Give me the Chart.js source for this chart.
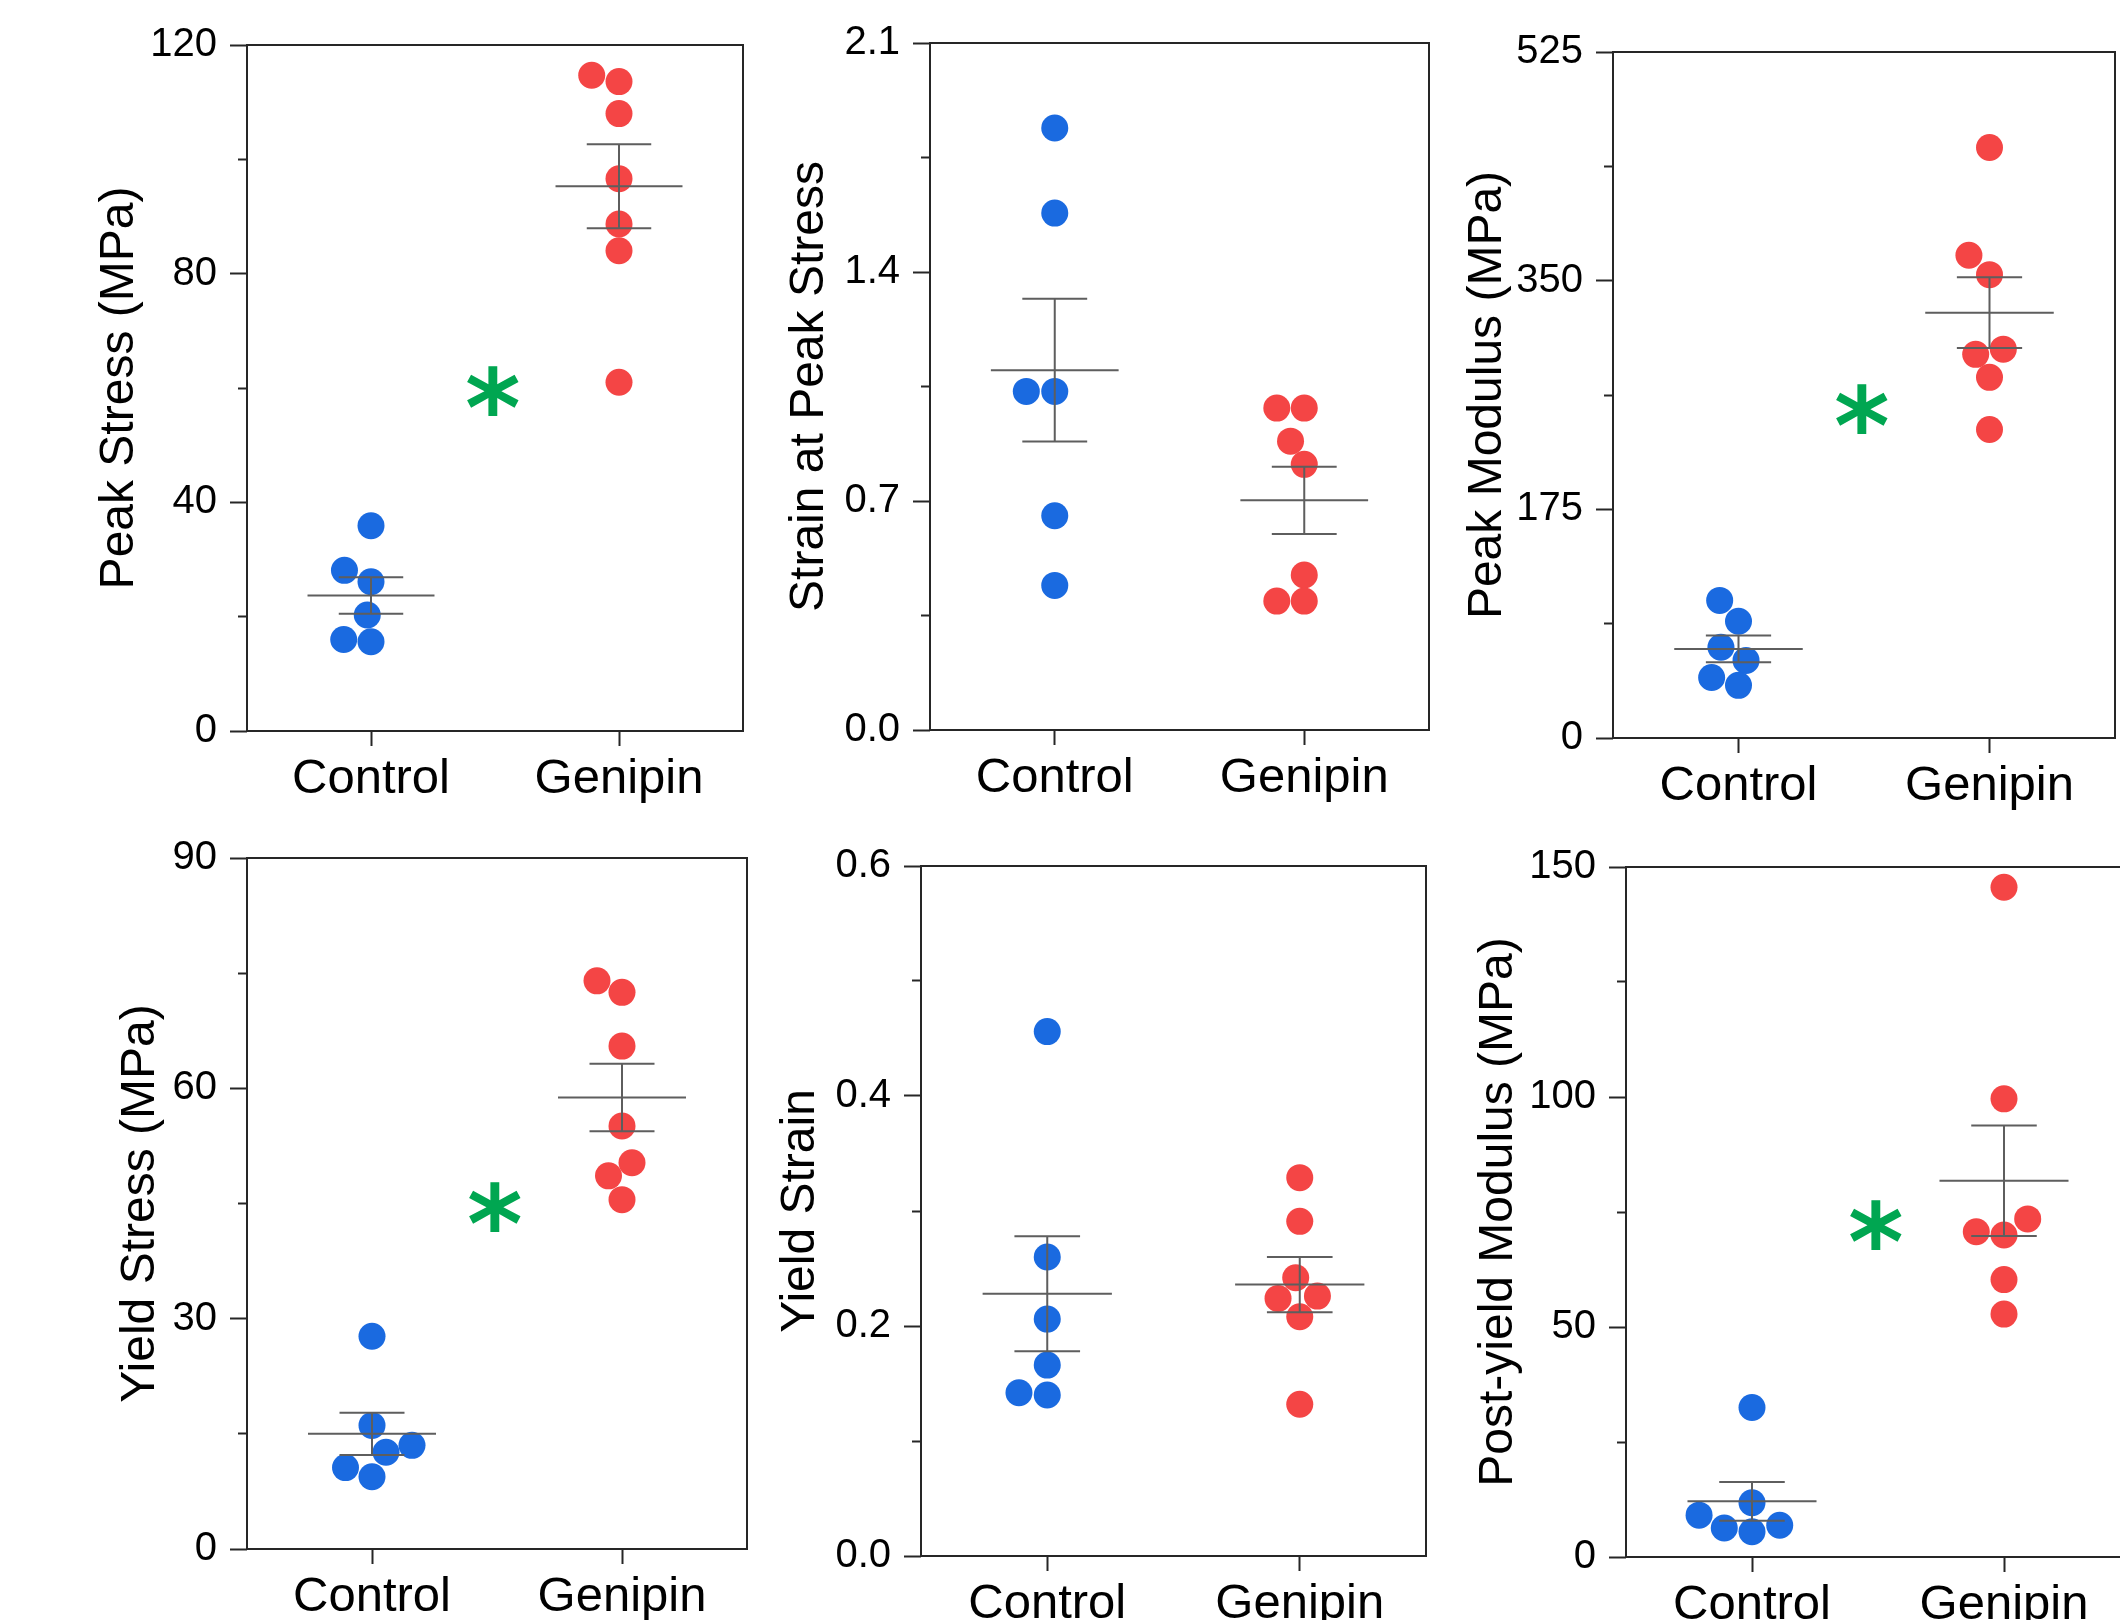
<!DOCTYPE html>
<html>
<head>
<meta charset="utf-8">
<script src="https://cdn.jsdelivr.net/npm/chart.js@4.4.1/dist/chart.umd.min.js"></script>
<style>
  html, body { margin: 0; padding: 0; background: #fff; width: 2120px; height: 1620px; overflow: hidden; }
  canvas { position: absolute; }
</style>
</head>
<body>
<canvas id="peakStress"></canvas>
<canvas id="strainPeak"></canvas>
<canvas id="peakModulus"></canvas>
<canvas id="yieldStress"></canvas>
<canvas id="yieldStrain"></canvas>
<canvas id="postYield"></canvas>
<script>
// ================== DATA ==================
const groups = ['Control', 'Genipin'];

// Peak Stress (MPa)
const peakStressControl = [35.9, 28.1, 26.1, 20.3, 16.0, 15.6];
const peakStressGenipin = [114.7, 113.6, 108.0, 96.6, 88.7, 84.0, 61.0];
const peakStressMean    = [23.7, 95.3];
const peakStressSE      = [3.2, 7.35];
const peakStressTicks   = [0, 40, 80, 120];
const peakStressLabels  = ['0', '40', '80', '120'];
const peakStressMinor   = [20, 60, 100];
const peakStressStar    = 59.5;

// Strain at Peak Stress
const strainPeakControl = [1.840, 1.580, 1.035, 1.035, 0.655, 0.442];
const strainPeakGenipin = [0.984, 0.984, 0.883, 0.812, 0.474, 0.394, 0.394];
const strainPeakMean    = [1.100, 0.702];
const strainPeakSE      = [0.218, 0.103];
const strainPeakTicks   = [0, 0.7, 1.4, 2.1];
const strainPeakLabels  = ['0.0', '0.7', '1.4', '2.1'];
const strainPeakMinor   = [0.35, 1.05, 1.75];

// Peak Modulus (MPa)
const peakModulusControl = [105.3, 89.4, 69.4, 59.4, 46.3, 40.3];
const peakModulusGenipin = [451.9, 369.4, 354.6, 297.6, 293.6, 276.0, 236.1];
const peakModulusMean    = [68.2, 325.5];
const peakModulusSE      = [10.2, 27.1];
const peakModulusTicks   = [0, 175, 350, 525];
const peakModulusLabels  = ['0', '175', '350', '525'];
const peakModulusMinor   = [87.5, 262.5, 437.5];
const peakModulusStar    = 252;

// Yield Stress (MPa)
const yieldStressControl = [27.7, 16.1, 13.5, 12.6, 10.6, 9.4];
const yieldStressGenipin = [74.0, 72.5, 65.5, 55.1, 50.3, 48.6, 45.5];
const yieldStressMean    = [15.0, 58.8];
const yieldStressSE      = [2.75, 4.4];
const yieldStressTicks   = [0, 30, 60, 90];
const yieldStressLabels  = ['0', '30', '60', '90'];
const yieldStressMinor   = [15, 45, 75];
const yieldStressStar    = 44.5;

// Yield Strain
const yieldStrainControl = [0.456, 0.260, 0.206, 0.166, 0.142, 0.140];
const yieldStrainGenipin = [0.329, 0.291, 0.242, 0.226, 0.224, 0.208, 0.132];
const yieldStrainMean    = [0.228, 0.236];
const yieldStrainSE      = [0.050, 0.024];
const yieldStrainTicks   = [0, 0.2, 0.4, 0.6];
const yieldStrainLabels  = ['0.0', '0.2', '0.4', '0.6'];
const yieldStrainMinor   = [0.1, 0.3, 0.5];

// Post-yield Modulus (MPa)
const postYieldControl = [32.5, 11.8, 9.1, 6.9, 6.3, 5.5];
const postYieldGenipin = [145.6, 99.6, 73.5, 70.7, 70.0, 60.3, 52.8];
const postYieldMean    = [12.1, 81.8];
const postYieldSE      = [4.2, 12.0];
const postYieldTicks   = [0, 50, 100, 150];
const postYieldLabels  = ['0', '50', '100', '150'];
const postYieldMinor   = [25, 75, 125];
const postYieldStar    = 72.2;

// beeswarm offsets of the dots (in category units)
const peakStressCtrlDx  = [0, -0.107, 0, -0.015, -0.11, 0];
const peakStressGenDx   = [-0.11, 0, 0, 0, 0, 0, 0];
const strainPeakCtrlDx  = [0, 0, -0.114, 0, 0, 0];
const strainPeakGenDx   = [-0.11, 0, -0.055, 0, 0, -0.11, 0];
const peakModCtrlDx     = [-0.075, 0, -0.07, 0.03, -0.107, 0];
const peakModGenDx      = [0, -0.082, 0, 0.055, -0.055, 0, 0];
const yieldStressCtrlDx = [0, 0, 0.16, 0.056, -0.106, 0];
const yieldStressGenDx  = [-0.10, 0, 0, 0, 0.04, -0.054, 0];
const yieldStrainCtrlDx = [0, 0, 0, 0, -0.112, 0];
const yieldStrainGenDx  = [0, 0, -0.016, 0.07, -0.086, 0, 0];
const postYieldCtrlDx   = [0, 0, -0.21, 0.11, -0.11, 0];
const postYieldGenDx    = [0, 0, 0.094, -0.11, 0, 0, 0];


// ================== STYLE ==================
const FONT = "'Liberation Sans', Arial, sans-serif";
const STAR_FONT = "'DejaVu Sans'";
const AXIS_W = 230;     // room for y labels + title
const XAXIS_H = 120;    // room for x labels
const PAD_T = 40;
const PAD_R = 20;
const BLUE = '#1a6ae0';
const RED = '#f44545';
const MEAN_HALF = 0.256;
const CAP_HALF = 0.13;


// ================== PLUGINS ==================
const frame = {
    id: 'frame',
    beforeDatasetsDraw(chart) {
        const { ctx, chartArea: a } = chart;
        ctx.save();
        ctx.strokeStyle = '#262626';
        ctx.lineWidth = 2;
        ctx.strokeRect(a.left, a.top, a.right - a.left, a.bottom - a.top);
        ctx.restore();
    }
};

const meanSE = {
    id: 'meanSE',
    afterDatasetsDraw(chart, args, o) {
        const { ctx, scales: { x, y } } = chart;
        ctx.save();
        ctx.strokeStyle = '#5e5e5e';
        ctx.lineWidth = 2;
        o.means.forEach((m, i) => {
            const cx = x.getPixelForValue(i);
            const hw = x.getPixelForValue(i + MEAN_HALF) - cx;
            const cw = x.getPixelForValue(i + CAP_HALF) - cx;
            const ym = y.getPixelForValue(m);
            const yt = y.getPixelForValue(m + o.se[i]);
            const yb = y.getPixelForValue(m - o.se[i]);
            ctx.beginPath();
            ctx.moveTo(cx - hw, ym); ctx.lineTo(cx + hw, ym);
            ctx.moveTo(cx - cw, yt); ctx.lineTo(cx + cw, yt);
            ctx.moveTo(cx - cw, yb); ctx.lineTo(cx + cw, yb);
            ctx.moveTo(cx, yt);      ctx.lineTo(cx, yb);
            ctx.stroke();
        });
        ctx.restore();
    }
};

// green significance asterisk between the two groups
const star = {
    id: 'star',
    afterDatasetsDraw(chart, args, o) {
        if (o.value == null) return;
        const { ctx, scales: { x, y } } = chart;
        const px = x.getPixelForValue(0.5);
        const py = y.getPixelForValue(o.value);
        ctx.save();
        ctx.font = `bold 100px ${STAR_FONT}`;
        let m = ctx.measureText('*');
        const size = 100 * o.height / (m.actualBoundingBoxAscent + m.actualBoundingBoxDescent);
        ctx.font = `bold ${size}px ${STAR_FONT}`;
        m = ctx.measureText('*');
        ctx.fillStyle = '#00a651';
        ctx.textAlign = 'left';
        ctx.textBaseline = 'alphabetic';
        const gx = px - (m.actualBoundingBoxRight - m.actualBoundingBoxLeft) / 2 + m.actualBoundingBoxLeft;
        const gy = py + (m.actualBoundingBoxAscent - m.actualBoundingBoxDescent) / 2;
        ctx.fillText('*', gx, gy);
        ctx.restore();
    }
};


// ================== PANELS ==================
function pts(values, dx, cat) {
    return values.map((v, i) => ({ x: cat + dx[i], y: v }));
}

function makePanel(id, p) {
    const canvas = document.getElementById(id);
    const [L, T, W, H] = p.box;
    const cw = AXIS_W + W + PAD_R;
    const ch = PAD_T + H + XAXIS_H;
    canvas.width = cw;
    canvas.height = ch;
    canvas.style.width = cw + 'px';
    canvas.style.height = ch + 'px';
    canvas.style.left = (L - AXIS_W) + 'px';
    canvas.style.top = (T - PAD_T) + 'px';

    const max = p.ticks[p.ticks.length - 1];
    const tickGrid = { drawOnChartArea: false, drawTicks: true, tickWidth: 2, tickColor: '#262626' };

    new Chart(canvas, {
        type: 'scatter',
        data: {
            datasets: [
                { data: pts(p.control, p.ctrlDx, 0), backgroundColor: BLUE, clip: false },
                { data: pts(p.genipin, p.genDx, 1), backgroundColor: RED, clip: false }
            ]
        },
        options: {
            responsive: false,
            animation: false,
            devicePixelRatio: 1,
            layout: { padding: { left: 0, top: PAD_T, right: PAD_R, bottom: 0 } },
            elements: { point: { radius: 13.5, borderWidth: 0, hoverRadius: 13.5 } },
            scales: {
                x: {
                    type: 'linear', min: -0.5, max: 1.5,
                    afterBuildTicks: s => { s.ticks = groups.map((g, i) => ({ value: i })); },
                    afterFit: s => { s.height = XAXIS_H; },
                    ticks: {
                        callback: v => groups[v], autoSkip: false, maxRotation: 0,
                        font: { family: FONT, size: 49 }, color: '#000', padding: 4
                    },
                    grid: { ...tickGrid, tickLength: 15 },
                    border: { display: false }
                },
                y: {
                    type: 'linear', position: 'left', weight: 1, min: 0, max: max,
                    afterBuildTicks: s => { s.ticks = p.ticks.map(v => ({ value: v })); },
                    afterFit: s => { s.width = AXIS_W; },
                    ticks: {
                        callback: (v, i) => p.labels[i],
                        font: { family: FONT, size: 40 }, color: '#000', padding: 13
                    },
                    grid: { ...tickGrid, tickLength: 17 },
                    border: { display: false },
                    title: {
                        display: true, text: p.title, color: '#000',
                        font: { family: FONT, size: 48 },
                        padding: { top: p.titlePad, bottom: 0 }
                    }
                },
                yMinor: {
                    type: 'linear', position: 'left', weight: 0, min: 0, max: max,
                    afterBuildTicks: s => { s.ticks = p.minor.map(v => ({ value: v })); },
                    afterFit: s => { s.width = 0; },
                    ticks: { display: false },
                    grid: { ...tickGrid, tickLength: 9 },
                    border: { display: false }
                }
            },
            plugins: {
                legend: { display: false },
                tooltip: { enabled: false },
                meanSE: { means: p.mean, se: p.se },
                star: { value: p.star, height: 50 }
            }
        },
        plugins: [frame, meanSE, star]
    });
}

makePanel('peakStress', {
    box: [247, 45, 496, 686], title: 'Peak Stress (MPa)', titlePad: 74,
    control: peakStressControl, genipin: peakStressGenipin,
    ctrlDx: peakStressCtrlDx, genDx: peakStressGenDx,
    mean: peakStressMean, se: peakStressSE,
    ticks: peakStressTicks, labels: peakStressLabels, minor: peakStressMinor,
    star: peakStressStar
});

makePanel('strainPeak', {
    box: [930, 43, 499, 687], title: 'Strain at Peak Stress', titlePad: 81,
    control: strainPeakControl, genipin: strainPeakGenipin,
    ctrlDx: strainPeakCtrlDx, genDx: strainPeakGenDx,
    mean: strainPeakMean, se: strainPeakSE,
    ticks: strainPeakTicks, labels: strainPeakLabels, minor: strainPeakMinor,
    star: null
});

makePanel('peakModulus', {
    box: [1613, 52, 502, 686], title: 'Peak Modulus (MPa)', titlePad: 76,
    control: peakModulusControl, genipin: peakModulusGenipin,
    ctrlDx: peakModCtrlDx, genDx: peakModGenDx,
    mean: peakModulusMean, se: peakModulusSE,
    ticks: peakModulusTicks, labels: peakModulusLabels, minor: peakModulusMinor,
    star: peakModulusStar
});

makePanel('yieldStress', {
    box: [247, 858, 500, 691], title: 'Yield Stress (MPa)', titlePad: 95,
    control: yieldStressControl, genipin: yieldStressGenipin,
    ctrlDx: yieldStressCtrlDx, genDx: yieldStressGenDx,
    mean: yieldStressMean, se: yieldStressSE,
    ticks: yieldStressTicks, labels: yieldStressLabels, minor: yieldStressMinor,
    star: yieldStressStar
});

makePanel('yieldStrain', {
    box: [921, 866, 505, 690], title: 'Yield Strain', titlePad: 81,
    control: yieldStrainControl, genipin: yieldStrainGenipin,
    ctrlDx: yieldStrainCtrlDx, genDx: yieldStrainGenDx,
    mean: yieldStrainMean, se: yieldStrainSE,
    ticks: yieldStrainTicks, labels: yieldStrainLabels, minor: yieldStrainMinor,
    star: null
});

makePanel('postYield', {
    box: [1626, 867, 504, 690], title: 'Post-yield Modulus (MPa)', titlePad: 74,
    control: postYieldControl, genipin: postYieldGenipin,
    ctrlDx: postYieldCtrlDx, genDx: postYieldGenDx,
    mean: postYieldMean, se: postYieldSE,
    ticks: postYieldTicks, labels: postYieldLabels, minor: postYieldMinor,
    star: postYieldStar
});
</script>
</body>
</html>
